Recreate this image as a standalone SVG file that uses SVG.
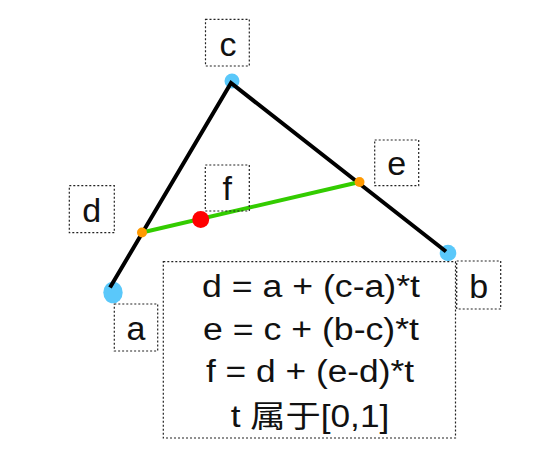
<svg xmlns="http://www.w3.org/2000/svg" width="554" height="456" viewBox="0 0 554 456">
<style>
.box{fill:none;stroke:#222;stroke-width:1.2;stroke-dasharray:2 2}
.lbl{font-family:"Liberation Sans",Arial,sans-serif;font-size:34px;fill:#111;text-anchor:middle}
.frm{font-family:"Liberation Sans","Noto Sans CJK SC",Arial,sans-serif;font-size:31px;fill:#111;text-anchor:middle}
.pt{fill:#5ac8fa}
.mid{fill:#ff9900}
</style>
<rect width="554" height="456" fill="#fff"/>
<g id="point-circles">
<circle class="pt" cx="232" cy="81" r="7.5"/>
<ellipse class="pt" cx="113" cy="292.5" rx="9.7" ry="10.8"/>
<circle class="pt" cx="448" cy="253" r="8.3"/>
</g>
<g id="connectors">
<polyline points="110,287.5 231,83 446,251.5" fill="none" stroke="#000" stroke-width="4" stroke-linejoin="miter"/>
<line x1="142" y1="232.5" x2="359.5" y2="182" stroke="#33cc00" stroke-width="4"/>
</g>
<g id="node-d-point"><circle class="mid" cx="142" cy="232.5" r="5"/></g>
<g id="node-e-point"><circle class="mid" cx="359.5" cy="182" r="5"/></g>
<g id="node-f-point"><circle cx="200.7" cy="219.5" r="8.5" fill="#ff0000"/></g>
<g id="label-c"><rect class="box" x="205.5" y="19.3" width="43.8" height="46.7"/><text class="lbl" x="228" y="55.5">c</text></g>
<g id="label-f"><rect class="box" x="205.3" y="165" width="44" height="46"/><text class="lbl" x="227.3" y="200">f</text></g>
<g id="label-d"><rect class="box" x="69.3" y="185.7" width="45" height="47"/><text class="lbl" x="91.8" y="221.7">d</text></g>
<g id="label-e"><rect class="box" x="374.7" y="140" width="44" height="45.7"/><text class="lbl" x="396.7" y="174.7">e</text></g>
<g id="label-a"><rect class="box" x="114.3" y="304" width="43.4" height="47"/><text class="lbl" x="136" y="340">a</text></g>
<g id="label-b"><rect class="box" x="456.7" y="261" width="44" height="48"/><text class="lbl" x="478.7" y="298">b</text></g>
<g id="formula">
<rect class="box" x="163.3" y="261.7" width="292.2" height="176.3"/>
<text class="frm" x="311" y="296.7" textLength="218" lengthAdjust="spacingAndGlyphs">d = a + (c-a)*t</text>
<text class="frm" x="311" y="340" textLength="216" lengthAdjust="spacingAndGlyphs">e = c + (b-c)*t</text>
<text class="frm" x="310" y="381.7" textLength="208" lengthAdjust="spacingAndGlyphs">f = d + (e-d)*t</text>
<text class="frm" x="310" y="426.7" textLength="158.6" lengthAdjust="spacingAndGlyphs">t 属于[0,1]</text>
</g>
</svg>
